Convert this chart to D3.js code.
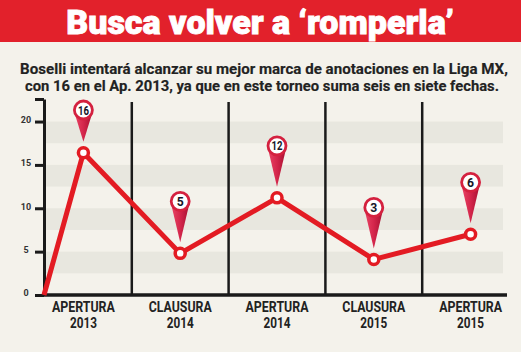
<!DOCTYPE html>
<html><head><meta charset="utf-8">
<script src="https://cdn.jsdelivr.net/npm/d3@7"></script>
<style>body{margin:0;background:#f4f2eb;} svg{display:block}</style>
</head><body><svg id="c" width="521" height="352"></svg>
<script>
const title = "Busca volver a \u2018romperla\u2019";
const subtitle = ["Boselli intentará alcanzar su mejor marca de anotaciones en la Liga MX,",
                  "con 16 en el Ap. 2013, ya que en este torneo suma seis en siete fechas."];
const tournaments = ["APERTURA 2013","CLAUSURA 2014","APERTURA 2014","CLAUSURA 2015","APERTURA 2015"];
const goals = [16, 5, 12, 3, 6];            // labels in the pins
const plotted = [16.4, 4.8, 11.2, 4.1, 7.0]; // line heights as drawn
const yTicks = [0, 5, 10, 15, 20];
const yTop = 22.6;

const svg = d3.select("#c");
const W = 521, H = 352;
svg.append("rect").attr("width", W).attr("height", H).attr("fill", "#f4f2eb");

// fit a text horizontally to a target width, centred on cx
function fitText(sel, cx, cy, target, maxK = 1) {
  const n = sel.node().getComputedTextLength();
  const k = Math.min(maxK, target / n);
  sel.attr("x", 0).attr("y", 0).attr("text-anchor", "middle")
     .attr("transform", `translate(${cx},${cy}) scale(${k},1)`);
}

// banner
svg.append("rect").attr("width", W).attr("height", 42).attr("fill", "#e2212b");
const t = svg.append("text")
  .attr("font-family", "Roboto, 'Open Sans', sans-serif").attr("font-weight", 900)
  .attr("font-size", 34).attr("fill", "#fff").attr("stroke", "#fff").attr("stroke-width", 0.9)
  .text(title);
fitText(t, 260, 33.5, 438);

// subtitle
const subX = [264, 262], subY = [74.2, 91], subLen = [488, 474];
subtitle.forEach((s, i) => {
  const st = svg.append("text")
    .attr("font-family", "Roboto, sans-serif").attr("font-weight", 700)
    .attr("font-size", 14.4).attr("fill", "#222").attr("stroke", "#222").attr("stroke-width", 0.15)
    .text(s);
  fitText(st, subX[i], subY[i], subLen[i], 1.2);
});

// scales
const axisX = 44, plotRight = 503;
const x = d3.scaleBand().domain(tournaments).range([35, 519]).padding(0);
const y = d3.scaleLinear().domain([0, yTop]).range([295, 99]);
const cx = d => x(d) + x.bandwidth() / 2;

// bands
svg.append("g").selectAll("rect").data(yTicks.filter(d => d > 0)).join("rect")
  .attr("x", axisX).attr("width", plotRight - axisX)
  .attr("y", d => y(d)).attr("height", d => y(d - 2.5) - y(d))
  .attr("fill", "#e8e7df");

// separators
svg.append("g").selectAll("line").data(tournaments.slice(1)).join("line")
  .attr("x1", d => x(d)).attr("x2", d => x(d))
  .attr("y1", 102).attr("y2", y(0))
  .attr("stroke", "#1a1a1a").attr("stroke-width", 2.5);

// y axis
const ya = svg.append("g").attr("transform", `translate(${axisX},0)`)
  .call(d3.axisLeft(y).tickValues([...yTicks, yTop]).tickSize(9).tickSizeOuter(0)
    .tickFormat(d => yTicks.includes(d) ? d : ""));
ya.select(".domain").attr("stroke", "#1a1a1a").attr("stroke-width", 3);
ya.selectAll(".tick line").attr("stroke", "#1a1a1a").attr("stroke-width", 3);
ya.selectAll(".tick text").attr("x", -18).attr("text-anchor", "middle").attr("dy", "0.1em")
  .attr("font-family", "Roboto, sans-serif").attr("font-weight", 700).attr("font-size", 9)
  .attr("fill", "#333");

// baseline
svg.append("line").attr("x1", axisX - 1.5).attr("x2", 507).attr("y1", y(0)).attr("y2", y(0))
  .attr("stroke", "#1a1a1a").attr("stroke-width", 3.5);

// category labels
tournaments.forEach(d => {
  const [w1, w2] = d.split(" ");
  const a = svg.append("text").attr("font-family", "Roboto, sans-serif")
    .attr("font-weight", 700).attr("font-size", 14.5).attr("fill", "#222").text(w1);
  fitText(a, cx(d), 312, 63);
  const b = svg.append("text").attr("font-family", "Roboto, sans-serif")
    .attr("font-weight", 700).attr("font-size", 14.5).attr("fill", "#222").text(w2);
  fitText(b, cx(d), 327.5, 27);
});

// line
const pts = [[axisX, y(0)], ...tournaments.map((t, i) => [cx(t), y(plotted[i])])];
svg.append("path").attr("d", d3.line()(pts)).attr("fill", "none")
  .attr("stroke", "#e31b23").attr("stroke-width", 5).attr("stroke-linejoin", "round");

// gradient for pins
const defs = svg.append("defs");
const grad = defs.append("linearGradient").attr("id", "pinGrad").attr("x1", 0).attr("x2", 1).attr("y1", 0).attr("y2", 0);
grad.append("stop").attr("offset", "0%").attr("stop-color", "#ea4566");
grad.append("stop").attr("offset", "50%").attr("stop-color", "#d4264b");
grad.append("stop").attr("offset", "100%").attr("stop-color", "#a60f30");

// points
svg.append("g").selectAll("circle").data(tournaments).join("circle")
  .attr("cx", cx).attr("cy", (d, i) => y(plotted[i]))
  .attr("r", 5).attr("fill", "#fff").attr("stroke", "#e31b23").attr("stroke-width", 3.5);

// pins
const pins = svg.append("g").selectAll("g").data(tournaments).join("g")
  .attr("transform", (d, i) => `translate(${cx(d)},${y(plotted[i])})`);
pins.each(function (d, i) {
  const g = d3.select(this);
  const py = y(plotted[i]);
  const cyy = Math.max(110, py - 52) - py;
  g.append("path").attr("d", `M${-9.5},${cyy + 1} L0,${-11} L${9.5},${cyy + 1} Z`).attr("fill", "url(#pinGrad)");
  g.append("circle").attr("cx", 0).attr("cy", cyy).attr("r", 9)
    .attr("fill", "#fff").attr("stroke", "#d4213f").attr("stroke-width", 2.8);
  const tx = g.append("text").attr("font-family", "Roboto, sans-serif").attr("font-weight", 700)
    .attr("font-size", 12.5).attr("fill", "#161629").attr("dy", "0.36em").text(goals[i]);
  fitText(tx, 0, cyy, goals[i] >= 10 ? 11 : 7);
});
</script></body></html>
